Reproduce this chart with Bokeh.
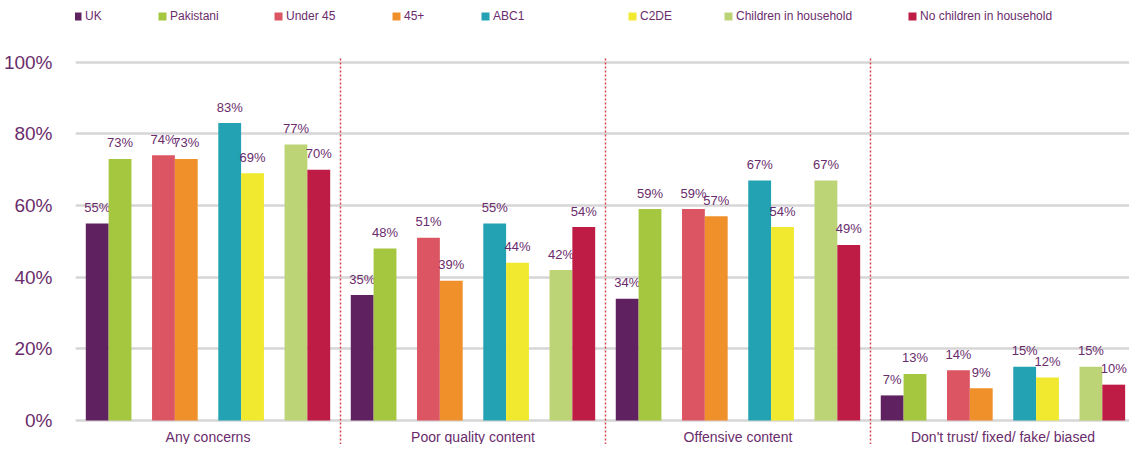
from bokeh.plotting import figure
from bokeh.models import ColumnDataSource, Legend, LegendItem, FixedTicker, Range1d
from bokeh.core.properties import value
from bokeh.embed import file_html
from bokeh.resources import INLINE

categories = ["Any concerns", "Poor quality content", "Offensive content", "Don't trust/ fixed/ fake/ biased"]
series_names = ["UK", "Pakistani", "Under 45", "45+", "ABC1", "C2DE", "Children in household", "No children in household"]
uk = [55, 35, 34, 7]
pakistani = [73, 48, 59, 13]
under45 = [74, 51, 59, 14]
over45 = [73, 39, 57, 9]
abc1 = [83, 55, 67, 15]
c2de = [69, 44, 54, 12]
children = [77, 42, 67, 15]
no_children = [70, 54, 49, 10]
y_ticks = [0, 20, 40, 60, 80, 100]
y_tick_labels = ["0%", "20%", "40%", "60%", "80%", "100%"]

series_values = [uk, pakistani, under45, over45, abc1, c2de, children, no_children]
colors = ["#5f2160", "#a5c63f", "#dc5563", "#f0902a", "#22a2b2", "#f1e92f", "#bcd476", "#bf1c45"]
TXT = "#6a2c6c"
FONT = "Liberation Sans"

PX_PER_CAT = 267.0
PX_PER_PCT = 3.583
frame_w = 1062
frame_h = 444
y0 = -6.7
y1 = y0 + frame_h / PX_PER_PCT
p = figure(width=1129, height=frame_h, output_backend="svg", toolbar_location=None,
           x_range=Range1d(0, frame_w / PX_PER_CAT), y_range=Range1d(y0, y1),
           min_border_left=67, min_border_right=0, min_border_top=0, min_border_bottom=0)
p.outline_line_color = None
p.xaxis.visible = False
p.xgrid.grid_line_color = None
p.yaxis.ticker = FixedTicker(ticks=y_ticks)
p.yaxis.major_label_overrides = {t: l for t, l in zip(y_ticks, y_tick_labels)}
p.yaxis.axis_line_color = None
p.yaxis.major_tick_line_color = None
p.yaxis.minor_tick_line_color = None
p.yaxis.major_label_standoff = 17
p.yaxis.major_label_text_font = FONT
p.yaxis.major_label_text_font_size = "19px"
p.yaxis.major_label_text_color = TXT
p.ygrid.ticker = FixedTicker(ticks=y_ticks)
p.ygrid.grid_line_color = "#d6d6d6"
p.ygrid.grid_line_width = 2.5

# dividers between categories
div_src = ColumnDataSource(dict(x=[i for i in range(1, len(categories))],
                                top=[101] * (len(categories) - 1), bot=[y0] * (len(categories) - 1)))
p.segment(x0="x", y0="top", x1="x", y1="bot", source=div_src, line_color="#d9424a",
          line_width=1.5, line_dash="2 2")

bar_w = 23 / PX_PER_CAT
renderers = []
for s, (name, vals, col) in enumerate(zip(series_names, series_values, colors)):
    pair = s // 2
    side = -1 if s % 2 == 0 else 1
    xs = [i + 0.125 + pair * 0.25 + side * bar_w / 2 for i in range(len(categories))]
    src = ColumnDataSource(dict(x=xs, top=vals, lab=[f"{v}%" for v in vals]))
    r = p.vbar(x="x", top="top", width=bar_w, color=col, line_color=None, source=src)
    renderers.append(r)
    p.text(x="x", y="top", text="lab", source=src, text_align="center", text_baseline="middle",
           y_offset=-16, text_font=value(FONT), text_font_size="13px", text_color=TXT)

# category labels
cat_src = ColumnDataSource(dict(x=[i + 0.5 for i in range(len(categories))], y=[-4.5] * len(categories), t=categories))
p.text(x="x", y="y", text="t", source=cat_src, text_align="center", text_baseline="middle",
       text_font=value(FONT), text_font_size="14px", text_color=TXT)

legend_x = [-3, 82, 198, 316, 405, 552, 648, 832]
for name, r, lx in zip(series_names, renderers, legend_x):
    lg = Legend(items=[LegendItem(label=name, renderers=[r])], location=(lx, 421),
                glyph_width=10, glyph_height=10, label_height=14, label_standoff=3,
                padding=0, margin=0, spacing=0, border_line_color=None, background_fill_alpha=0,
                label_text_font=FONT, label_text_font_size="12px", label_text_color=TXT)
    p.add_layout(lg, "center")

open("out.html", "w").write(file_html(p, INLINE))
